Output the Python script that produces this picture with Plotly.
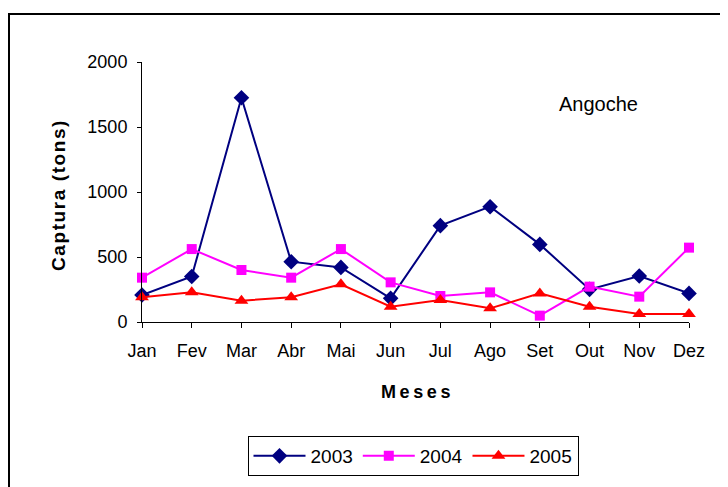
import plotly.graph_objects as go

months = ["Jan", "Fev", "Mar", "Abr", "Mai", "Jun", "Jul", "Ago", "Set", "Out", "Nov", "Dez"]
y2003 = [208, 350, 1725, 464, 420, 182, 741, 887, 597, 251, 354, 220]
y2004 = [341, 561, 400, 341, 561, 305, 200, 228, 49, 272, 195, 572]
y2005 = [190, 228, 164, 190, 290, 118, 169, 105, 220, 118, 62, 62]
yticks = [0, 500, 1000, 1500, 2000]

xs = list(range(len(months)))
FONT = "Liberation Sans, Arial, sans-serif"

fig = go.Figure()
fig.add_trace(go.Scatter(x=xs, y=y2003, name="2003", mode="lines+markers",
                         line=dict(color="#000080", width=2),
                         marker=dict(symbol="diamond", size=12, color="#000080"),
                         cliponaxis=False))
fig.add_trace(go.Scatter(x=xs, y=y2004, name="2004", mode="lines+markers",
                         line=dict(color="#FF00FF", width=2),
                         marker=dict(symbol="square", size=10, color="#FF00FF"),
                         cliponaxis=False))
fig.add_trace(go.Scatter(x=xs, y=y2005, name="2005", mode="lines+markers",
                         line=dict(color="#FF0000", width=2),
                         marker=dict(symbol="triangle-up", size=12, color="#FF0000"),
                         cliponaxis=False))

OFF = 8  # page body margin
L, R, T, B = 142 - OFF, 689 - OFF, 62 - OFF, 322 - OFF
W, H = 728, 487
pw, ph = R - L, B - T

def px(x):
    return (x - OFF - L) / pw

def py(y):
    return (B - (y - OFF)) / ph

TS = "\u2009"
HS = "\u200a"

fig.update_layout(
    width=W, height=H,
    margin=dict(l=L, r=W - R, t=T, b=H - B, pad=0),
    paper_bgcolor="white", plot_bgcolor="white",
    font=dict(family=FONT, size=18, color="black"),
    showlegend=True,
    legend=dict(orientation="h", x=px(413), xanchor="center", y=py(436), yanchor="top",
                bordercolor="black", borderwidth=1, font=dict(size=19),
                itemwidth=52, bgcolor="white"),
    xaxis=dict(range=[0, 11], tickvals=xs, ticktext=months, showgrid=False,
               zeroline=False, showline=True, linecolor="black", linewidth=1,
               ticks="outside", ticklen=5, tickcolor="black",
               ticklabelstandoff=7,
               tickfont=dict(size=18)),
    yaxis=dict(range=[0, 2000], tickvals=yticks, showgrid=False, zeroline=False,
               showline=True, linecolor="black", linewidth=1,
               ticks="outside", ticklen=4, tickcolor="black",
               ticklabelstandoff=6,
               tickfont=dict(size=18)),
    shapes=[dict(type="rect", xref="paper", yref="paper",
                 x0=px(9), x1=px(745), y0=py(500), y1=py(14),
                 line=dict(color="black", width=2), fillcolor="rgba(0,0,0,0)",
                 layer="below")],
    annotations=[
        dict(text="Angoche", xref="paper", yref="paper",
             x=px(598), y=py(104), xanchor="center", yanchor="middle",
             showarrow=False, font=dict(size=20)),
        dict(text="<b>" + TS.join("Meses") + "</b>", xref="paper", yref="paper",
             x=px(415), y=py(392), xanchor="center", yanchor="middle",
             showarrow=False, font=dict(size=18)),
        dict(text="<b>" + HS.join("Captura (tons)") + "</b>", xref="paper", yref="paper",
             x=px(58), y=py(196), xanchor="center", yanchor="middle", textangle=-90,
             showarrow=False, font=dict(size=19)),
    ],
)

fig.write_html("out.html")
